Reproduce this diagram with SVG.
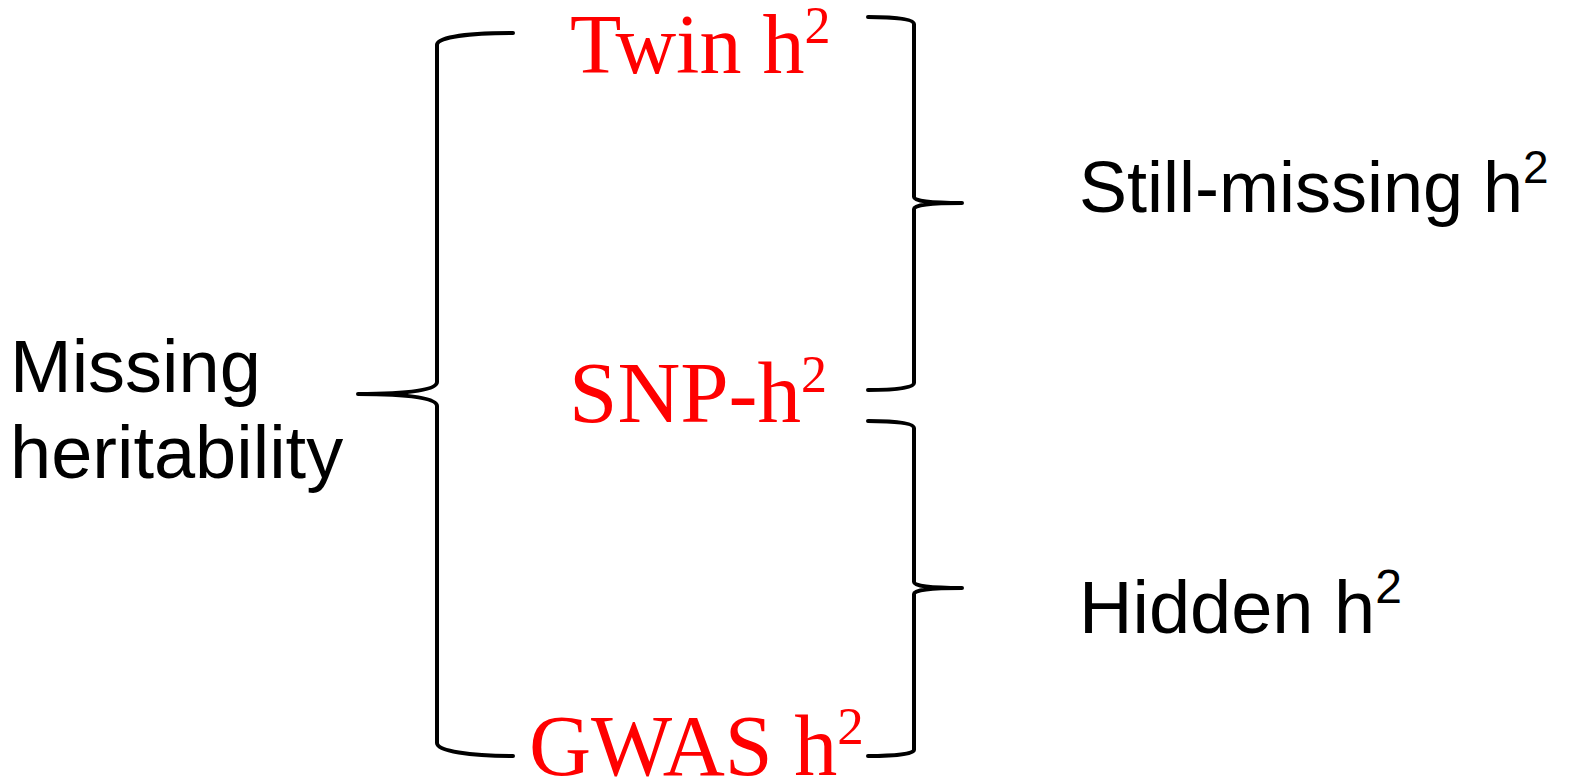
<svg xmlns="http://www.w3.org/2000/svg" width="1577" height="780" viewBox="0 0 1577 780">
  <style>
    .red { font-family: "Liberation Serif", "Times New Roman", serif; fill: #FF0000; }
    .blk { font-family: "Liberation Sans", Arial, sans-serif; fill: #000000; }
    .brace { fill: none; stroke: #000000; stroke-width: 4; stroke-linecap: round; stroke-linejoin: round; }
  </style>
  <rect width="1577" height="780" fill="#FFFFFF"/>
  <g id="connectors">
    <path class="brace" d="M513,33 C470,33 437,37 437,45 V382 C437,390 410,394 358,394 C410,394 437,398 437,406 V743 C437,751 470,756 513,756"/>
    <path class="brace" d="M868,17 C895,17 914,19 914,24 V197 C914,201 930,203 962,203 C930,203 914,205 914,209 V383 C914,388 895,390 868,390"/>
    <path class="brace" d="M868,421 C895,421 914,423 914,428 V582 C914,586 930,588 962,588 C930,588 914,590 914,594 V750 C914,754 895,756 868,756"/>
  </g>
  <g id="missing-heritability">
    <text class="blk" x="10" y="392" font-size="74">Missing</text>
    <text class="blk" x="10" y="478" font-size="74">heritability</text>
  </g>
  <g id="twin">
    <text class="red" x="570" y="73" font-size="84">Twin h<tspan font-size="52" dy="-30">2</tspan></text>
  </g>
  <g id="snp">
    <text class="red" x="569" y="422" font-size="87">SNP-h<tspan font-size="52" dy="-30">2</tspan></text>
  </g>
  <g id="gwas">
    <text class="red" x="529" y="775" font-size="86">GWAS h<tspan font-size="53" dy="-31">2</tspan></text>
  </g>
  <g id="still-missing">
    <text class="blk" x="1079" y="212" font-size="72">Still-missing h<tspan font-size="46" dy="-29">2</tspan></text>
  </g>
  <g id="hidden">
    <text class="blk" x="1079" y="633" font-size="74">Hidden h<tspan font-size="48" dy="-30">2</tspan></text>
  </g>
</svg>
